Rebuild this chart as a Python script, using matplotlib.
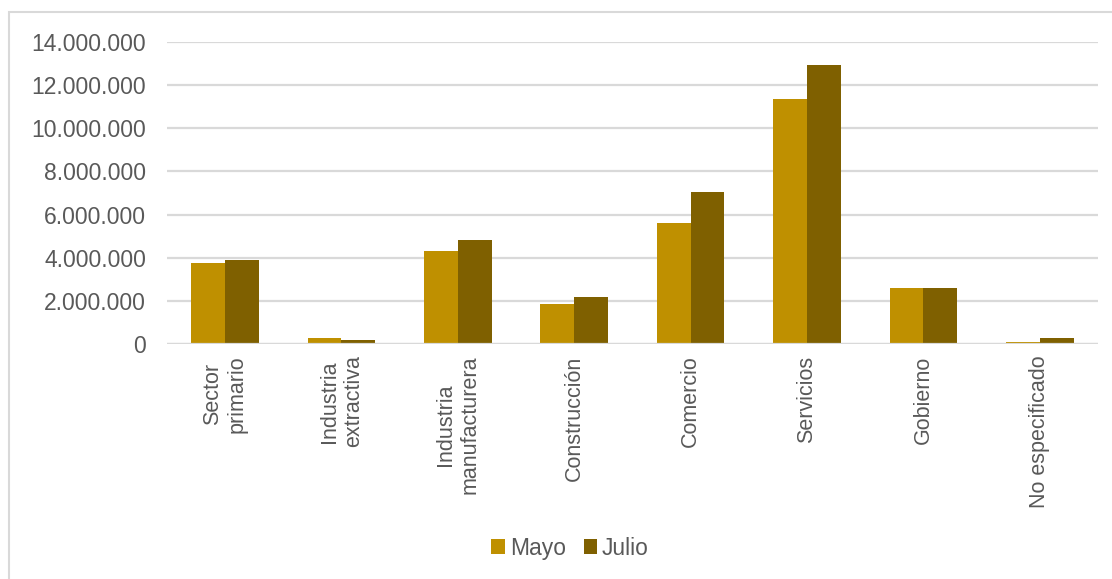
import matplotlib.pyplot as plt
import numpy as np
from matplotlib.patches import Rectangle
from matplotlib.ticker import FuncFormatter

plt.rcParams["font.family"] = ["Liberation Sans", "DejaVu Sans"]

sectores = [
    "Sector\nprimario",
    "Industria\nextractiva",
    "Industria\nmanufacturera",
    "Construcción",
    "Comercio",
    "Servicios",
    "Gobierno",
    "No especificado",
]
mayo = [3780000, 305000, 4330000, 1850000, 5600000, 11330000, 2590000, 110000]
julio = [3900000, 210000, 4810000, 2190000, 7030000, 12920000, 2620000, 280000]

c_mayo = "#BF9000"
c_julio = "#7F6000"
gris = "#D9D9D9"
texto = "#595959"

fig = plt.figure(figsize=(11.12, 5.79), dpi=100)
ax = fig.add_axes([0.15, 0.4054, 0.8374, 0.5226])

x = np.arange(len(sectores))
w = 0.29
ax.bar(x - w / 2, mayo, w, color=c_mayo, label="Mayo", zorder=3)
ax.bar(x + w / 2, julio, w, color=c_julio, label="Julio", zorder=3)

ax.set_xlim(-0.5, len(sectores) - 0.5)
ax.set_ylim(0, 14000000)
ax.set_yticks(np.arange(0, 14000001, 2000000))
ax.yaxis.set_major_formatter(FuncFormatter(lambda v, p: f"{int(v):,}".replace(",", ".")))
ax.grid(axis="y", color=gris, linewidth=1.6, zorder=0)
ax.axhline(0, color=gris, linewidth=1.6, zorder=4)

for s in ax.spines.values():
    s.set_visible(False)
ax.tick_params(axis="both", length=0, colors=texto)
ax.tick_params(axis="y", labelsize=16.5, pad=15)

ax.set_xticks(x)
ax.set_xticklabels(sectores, rotation=90, fontsize=15.5, va="top", ha="center",
                   multialignment="center")
ax.tick_params(axis="x", pad=8)

fig.legend(loc="center", bbox_to_anchor=(0.5126, 0.0535), ncol=2, frameon=False,
           fontsize=16.5, handlelength=0.6, handleheight=0.6, handletextpad=0.2,
           columnspacing=0.78, labelcolor=texto)

# light chart-area border
fig.patches.append(Rectangle((9 / 1112, -0.05), 1.1, 1 - 12 / 579 + 0.05,
                             transform=fig.transFigure, fill=False,
                             edgecolor=gris, linewidth=1.5))

fig.savefig("out.png", dpi=100)
